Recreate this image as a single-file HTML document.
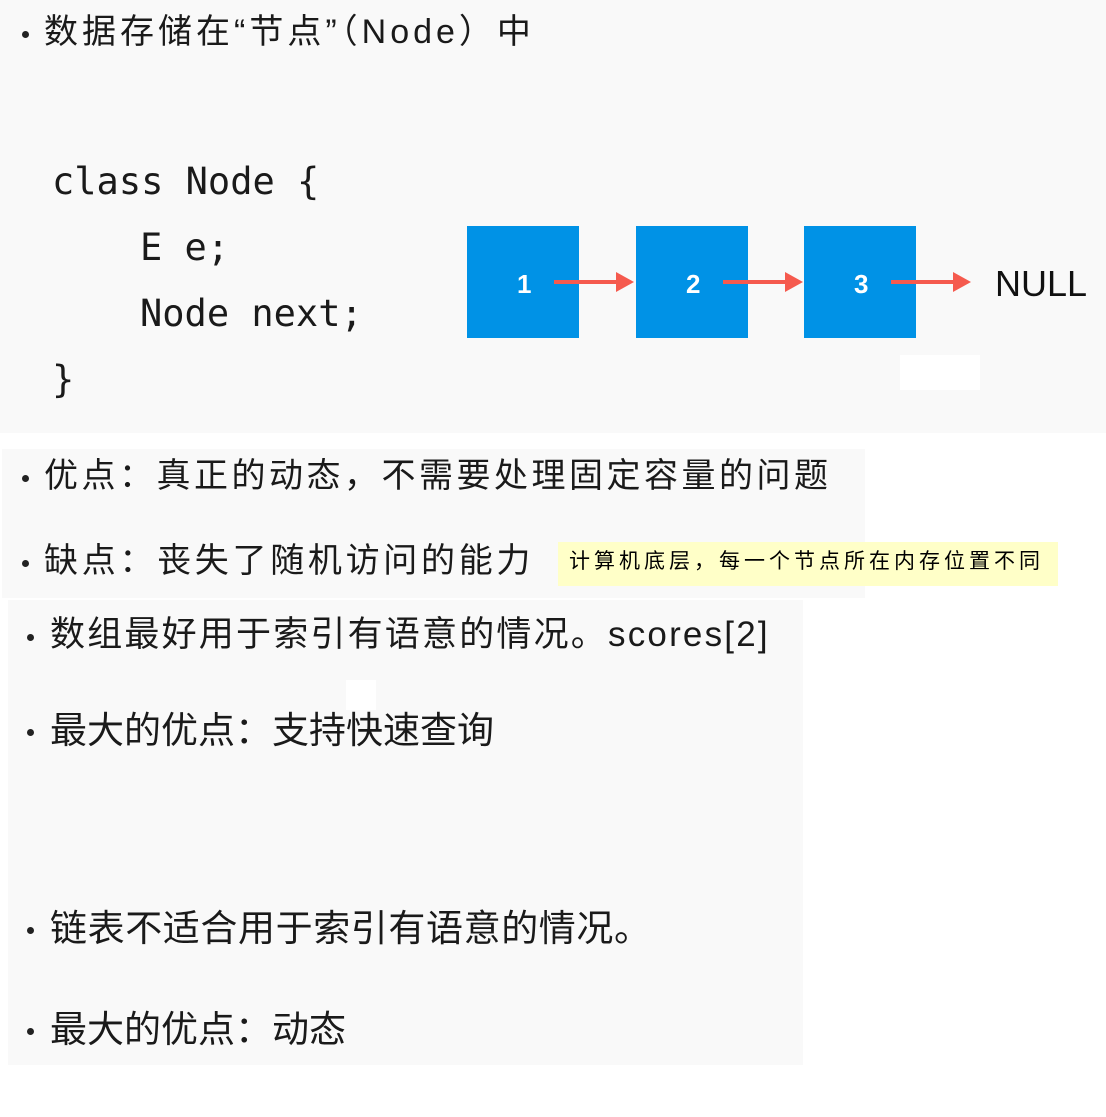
<!DOCTYPE html>
<html><head><meta charset="utf-8">
<style>
html,body{margin:0;padding:0;background:#fff;}
body{width:1106px;height:1117px;position:relative;overflow:hidden;font-family:"Liberation Sans","Noto Sans CJK SC",sans-serif;color:#1a1a1a;}
.p{position:absolute;}
.t{position:absolute;white-space:nowrap;line-height:1;}
.dot{position:absolute;width:7px;height:7px;border-radius:50%;background:#222;}
.code{font-family:"DejaVu Sans Mono","Liberation Mono",monospace;font-size:37px;}
.box{position:absolute;width:112px;height:112px;background:#0092e6;color:#fff;font-size:26px;font-weight:bold;}
.box span{position:absolute;top:43px;left:50px;}
.arr{position:absolute;height:4px;background:#f55a4e;}
.ah{position:absolute;width:0;height:0;border-top:10px solid transparent;border-bottom:10px solid transparent;border-left:18px solid #f55a4e;}
</style></head><body>
<div class="p" style="left:0;top:0;width:1106px;height:433px;background:#f9f9f9"></div>
<div class="p" style="left:900px;top:355px;width:80px;height:35px;background:#fff"></div>
<div class="p" style="left:2px;top:449px;width:863px;height:149px;background:#f9f9f9"></div>
<div class="p" style="left:8px;top:600px;width:795px;height:465px;background:#f9f9f9"></div>
<div class="p" style="left:346px;top:680px;width:30px;height:30px;background:#fff"></div>

<div class="dot" style="left:22px;top:31px"></div>
<div class="t" style="left:44px;top:15px;font-size:34px;letter-spacing:4px">数据存储在“节点”（Node）中</div>

<div class="t code" style="left:52px;top:163px">class Node {</div>
<div class="t code" style="left:140px;top:229px">E e;</div>
<div class="t code" style="left:140px;top:295px">Node next;</div>
<div class="t code" style="left:52px;top:361px">}</div>

<div class="box" style="left:467px;top:226px"><span>1</span></div>
<div class="box" style="left:636px;top:226px"><span>2</span></div>
<div class="box" style="left:804px;top:226px"><span>3</span></div>
<div class="arr" style="left:554px;top:280px;width:64px"></div><div class="ah" style="left:616px;top:272px"></div>
<div class="arr" style="left:723px;top:280px;width:64px"></div><div class="ah" style="left:785px;top:272px"></div>
<div class="arr" style="left:891px;top:280px;width:64px"></div><div class="ah" style="left:953px;top:272px"></div>
<div class="t" style="left:995px;top:266px;font-size:36px;color:#111">NULL</div>

<div class="dot" style="left:22px;top:475px"></div>
<div class="t" style="left:44px;top:459px;font-size:34px;letter-spacing:3.5px">优点：真正的动态，不需要处理固定容量的问题</div>
<div class="dot" style="left:22px;top:560px"></div>
<div class="t" style="left:44px;top:544px;font-size:34px;letter-spacing:3.7px">缺点：丧失了随机访问的能力</div>
<div class="p" style="left:558px;top:542px;width:500px;height:44px;background:#ffffc8"></div>
<div class="t" style="left:569px;top:551px;font-size:21px;letter-spacing:4px;color:#000">计算机底层，每一个节点所在内存位置不同</div>

<div class="dot" style="left:27px;top:634px"></div>
<div class="t" style="left:50px;top:617px;font-size:35px;letter-spacing:2.2px">数组最好用于索引有语意的情况。scores[2]</div>
<div class="dot" style="left:27px;top:729px"></div>
<div class="t" style="left:50px;top:712px;font-size:37px">最大的优点：支持快速查询</div>
<div class="dot" style="left:27px;top:927px"></div>
<div class="t" style="left:50px;top:910px;font-size:37px;letter-spacing:0.6px">链表不适合用于索引有语意的情况。</div>
<div class="dot" style="left:27px;top:1028px"></div>
<div class="t" style="left:50px;top:1011px;font-size:37px">最大的优点：动态</div>
</body></html>
